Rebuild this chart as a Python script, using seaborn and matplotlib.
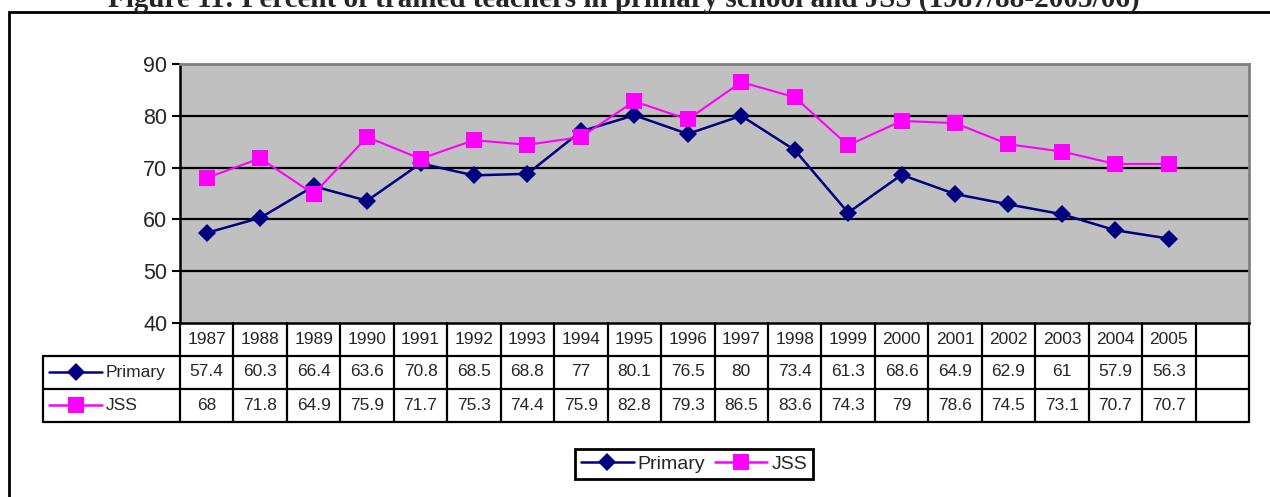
import seaborn as sns
import matplotlib.pyplot as plt
from matplotlib.lines import Line2D
from matplotlib.patches import Rectangle
import pandas as pd

# Values
years = [1987, 1988, 1989, 1990, 1991, 1992, 1993, 1994, 1995, 1996,
         1997, 1998, 1999, 2000, 2001, 2002, 2003, 2004, 2005]
primary = [57.4, 60.3, 66.4, 63.6, 70.8, 68.5, 68.8, 77, 80.1, 76.5,
           80, 73.4, 61.3, 68.6, 64.9, 62.9, 61, 57.9, 56.3]
jss = [68, 71.8, 64.9, 75.9, 71.7, 75.3, 74.4, 75.9, 82.8, 79.3,
       86.5, 83.6, 74.3, 79, 78.6, 74.5, 73.1, 70.7, 70.7]
series_names = ["Primary", "JSS"]
series_colors = {"Primary": "#000080", "JSS": "#FF00FF"}
series_markers = {"Primary": "D", "JSS": "s"}
marker_sizes = {"Primary": 9.5, "JSS": 11}
title = "Figure 11: Percent of trained teachers in primary school and JSS (1987/88-2005/06)"

n_cols = len(years) + 1  # one empty category at the end

df = pd.DataFrame({
    "pos": list(range(len(years))) * 2,
    "value": primary + jss,
    "series": ["Primary"] * len(years) + ["JSS"] * len(years),
})

sns.set_style("white")
plt.rcParams["font.family"] = ["Liberation Sans", "DejaVu Sans"]

W, H = 1270, 497
fig = plt.figure(figsize=(W / 100, H / 100), dpi=100)
ax = fig.add_axes([180 / W, 1 - 323 / H, 1069 / W, 259 / H])
ax.set_facecolor("#C0C0C0")

sns.lineplot(data=df, x="pos", y="value", hue="series", style="series",
             palette=series_colors, markers=series_markers, dashes=False,
             linewidth=1.8, markeredgewidth=0, legend=False, ax=ax, zorder=3)
for line, name in zip(ax.get_lines(), series_names):
    line.set_markersize(marker_sizes[name])
    if name == "JSS":
        line.set_linewidth(1.5)

ax.set_xlim(-0.5, n_cols - 0.5)
ax.set_ylim(40, 90)
ax.set_yticks([40, 50, 60, 70, 80, 90])
ax.set_xticks([])
ax.set_xlabel("")
ax.set_ylabel("")
for y in [50, 60, 70, 80]:
    ax.axhline(y, color="black", linewidth=1.6, zorder=1)
ax.tick_params(axis="y", labelsize=15.5, length=6, width=1.5, direction="out",
               color="black", pad=3, left=True)
for side in ["top", "right"]:
    ax.spines[side].set_color("#808080")
    ax.spines[side].set_linewidth(2)
ax.spines["left"].set_color("black")
ax.spines["left"].set_linewidth(1.8)
ax.spines["bottom"].set_color("black")
ax.spines["bottom"].set_linewidth(1.8)

# Data table under the plot (axes coordinates)
ph = 259.0
r0, r1, r2, r3 = 0, -32.5 / ph, -65.5 / ph, -98.5 / ph
lab_left = (43 - 180) / 1069
tr = ax.transAxes
kw = dict(color="black", linewidth=1.6, transform=tr, clip_on=False)
ax.plot([lab_left, 1], [r1, r1], **kw)
ax.plot([lab_left, 1], [r2, r2], **kw)
ax.plot([lab_left, 1], [r3, r3], **kw)
for i in range(n_cols + 1):
    ax.plot([i / n_cols, i / n_cols], [r0, r3], **kw)
ax.plot([lab_left, lab_left], [r1, r3], **kw)

cell_font = 12.5
for i, yr in enumerate(years):
    xc = (i + 0.5) / n_cols
    ax.text(xc, (r0 + r1) / 2, str(yr), transform=tr, ha="center", va="center",
            fontsize=cell_font)
    ax.text(xc, (r1 + r2) / 2, f"{primary[i]:g}", transform=tr, ha="center",
            va="center", fontsize=cell_font)
    ax.text(xc, (r2 + r3) / 2, f"{jss[i]:g}", transform=tr, ha="center",
            va="center", fontsize=cell_font)

# row labels with legend keys
for name, (ya, yb) in zip(series_names, [(r1, r2), (r2, r3)]):
    yc = (ya + yb) / 2
    x0 = (49 - 180) / 1069
    x1 = (102 - 180) / 1069
    ax.add_line(Line2D([x0, x1], [yc, yc], color=series_colors[name],
                       linewidth=1.8, transform=tr, clip_on=False))
    ax.add_line(Line2D([(x0 + x1) / 2], [yc], marker=series_markers[name],
                       markersize=marker_sizes[name], markeredgewidth=0,
                       color=series_colors[name], transform=tr, clip_on=False))
    ax.text((106 - 180) / 1069, yc, name, transform=tr, ha="left",
            va="center", fontsize=cell_font)

# legend at the bottom
handles = [Line2D([], [], color=series_colors[n], marker=series_markers[n],
                  markersize=marker_sizes[n], markeredgewidth=0,
                  linewidth=1.8) for n in series_names]
leg = fig.legend(handles, series_names, loc="center",
                 bbox_to_anchor=(694 / W, 1 - 464 / H), ncol=2,
                 fontsize=14, frameon=True, fancybox=False, framealpha=1,
                 handlelength=2.7, handletextpad=0.2, columnspacing=0.5,
                 borderpad=0.3, borderaxespad=0)
leg.get_frame().set_edgecolor("black")
leg.get_frame().set_linewidth(2)

# outer chart border
fig.patches.append(Rectangle((9 / W, -0.1), 1.2, 1 - 12 / H + 0.1,
                             transform=fig.transFigure, fill=False,
                             edgecolor="black", linewidth=2))

# title (cut off at the top as in the reference)
fig.text(624 / W, 1 - 7 / H, title, ha="center", va="baseline",
         fontsize=21, fontweight="bold", family=["Liberation Serif"])

fig.savefig("out.png", dpi=100)
